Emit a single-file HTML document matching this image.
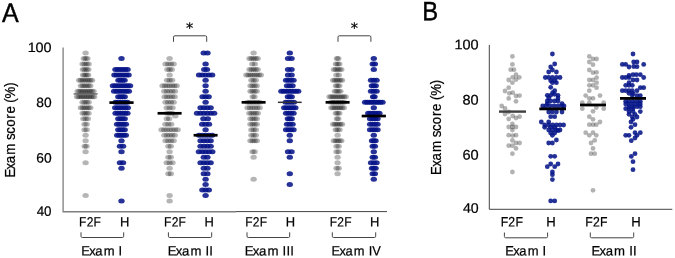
<!DOCTYPE html>
<html lang="en">
<head>
<meta charset="utf-8">
<style>
html,body{margin:0;padding:0;background:#fff;}
body{width:675px;height:258px;overflow:hidden;}
svg{display:block;}
svg text{font-family:"Liberation Sans",sans-serif;fill:#000;stroke:#000;stroke-width:0.22px;}
svg .ast text{font-family:"DejaVu Sans","Liberation Sans",sans-serif;}
</style>
</head>
<body>
<svg width="675" height="258" viewBox="0 0 675 258">
<rect width="100%" height="100%" fill="#fff"/>
<g fill="none" stroke="#7f7f7f" stroke-width="1.3">
<path d="M63.1 47.6V211.75H236"/>
</g>
<g fill="none" stroke="#444" stroke-width="1">
<path d="M236 211.6H387"/>
<path d="M489.3 44.9V209.3H672.3"/>
</g>
<g fill="none" stroke="#444" stroke-width="1">
<path d="M173.5 41.8V37.1Q173.5 35.8 174.8 35.8H205.4Q206.7 35.8 206.7 37.1V41.8"/>
<path d="M338 41.8V37.1Q338 35.8 339.3 35.8H369.6Q370.9 35.8 370.9 37.1V41.8"/>
<path d="M81 232.3V236.2Q81 237.5 82.3 237.5H122.4Q123.7 237.5 123.7 236.2V232.3"/>
<path d="M168.4 232.3V236.2Q168.4 237.5 169.7 237.5H210.4Q211.7 237.5 211.7 236.2V232.3"/>
<path d="M247 232.3V236.2Q247 237.5 248.3 237.5H288.4Q289.7 237.5 289.7 236.2V232.3"/>
<path d="M332.3 232.3V236.2Q332.3 237.5 333.6 237.5H374.4Q375.7 237.5 375.7 236.2V232.3"/>
<path d="M504.4 232.5V236.5Q504.4 237.8 505.7 237.8H546.3Q547.6 237.8 547.6 236.5V232.5"/>
<path d="M590.3 232.5V236.5Q590.3 237.8 591.6 237.8H632.4Q633.7 237.8 633.7 236.5V232.5"/>
</g>
<g font-size="14.5" text-anchor="middle" class="ast">
<text transform="translate(189.7 33.1) rotate(0.03)">*</text>
<text transform="translate(354.4 33.1) rotate(0.03)">*</text>
</g>

<text transform="translate(2.10 22.00) rotate(0.03) scale(0.9349 1)" x="-0.11" y="0" font-size="26.80" style="stroke-width:0.4px">A</text>
<text transform="translate(424.30 20.20) rotate(0.03) scale(0.8970 1)" x="-2.24" y="0" font-size="26.60" style="stroke-width:0.4px">B</text>
<text transform="translate(28.90 52.00) rotate(0.03) scale(1.0690 1)" x="-1.16 6.23 13.74" y="0" font-size="13.50">100</text>
<text transform="translate(36.90 107.00) rotate(0.03) scale(1.0185 1)" x="-0.59 6.91" y="0" font-size="13.50">80</text>
<text transform="translate(36.90 162.40) rotate(0.03) scale(1.0238 1)" x="-0.64 6.84" y="0" font-size="13.50">60</text>
<text transform="translate(36.90 215.70) rotate(0.03) scale(0.9945 1)" x="-0.21 7.25" y="0" font-size="13.50">40</text>
<text transform="translate(455.80 49.20) rotate(0.03) scale(1.0505 1)" x="-1.18 6.37 14.04" y="0" font-size="13.80">100</text>
<text transform="translate(463.10 104.40) rotate(0.03) scale(1.0521 1)" x="-0.61 7.07" y="0" font-size="13.80">80</text>
<text transform="translate(463.10 159.40) rotate(0.03) scale(1.0576 1)" x="-0.65 6.99" y="0" font-size="13.80">60</text>
<text transform="translate(463.10 212.70) rotate(0.03) scale(1.0273 1)" x="-0.21 7.42" y="0" font-size="13.80">40</text>
<text transform="translate(14.80 175.80) rotate(-90) scale(0.9629 1)" x="-1.88 6.65 13.07 21.86 33.80 37.24 43.67 50.85 59.38 64.58 72.25 75.89 80.36 92.51" y="0" font-size="13.80">Exam score (%)</text>
<text transform="translate(440.90 173.10) rotate(-90) scale(0.9619 1)" x="-1.88 6.65 13.07 21.86 33.80 37.24 43.67 50.85 59.38 64.58 72.25 75.89 80.36 92.51" y="0" font-size="13.80">Exam score (%)</text>
<text transform="translate(80.30 226.50) rotate(0.03) scale(0.8891 1)" x="-1.35 7.13 14.92" y="0" font-size="13.50">F2F</text>
<text transform="translate(165.30 226.50) rotate(0.03) scale(0.8891 1)" x="-1.35 7.13 14.92" y="0" font-size="13.50">F2F</text>
<text transform="translate(246.50 226.50) rotate(0.03) scale(0.8891 1)" x="-1.35 7.13 14.92" y="0" font-size="13.50">F2F</text>
<text transform="translate(330.90 226.50) rotate(0.03) scale(0.8891 1)" x="-1.35 7.13 14.92" y="0" font-size="13.50">F2F</text>
<text transform="translate(120.90 226.50) rotate(0.03) scale(0.9593 1)" x="-1.07" y="0" font-size="13.50">H</text>
<text transform="translate(205.40 226.50) rotate(0.03) scale(0.9593 1)" x="-1.07" y="0" font-size="13.50">H</text>
<text transform="translate(286.80 226.50) rotate(0.03) scale(0.9593 1)" x="-1.07" y="0" font-size="13.50">H</text>
<text transform="translate(371.10 226.50) rotate(0.03) scale(0.9593 1)" x="-1.07" y="0" font-size="13.50">H</text>
<text transform="translate(82.90 255.40) rotate(0.03) scale(0.9642 1)" x="-1.82 6.57 12.90 21.57 33.30 37.05" y="0" font-size="13.50">Exam I</text>
<text transform="translate(169.50 255.40) rotate(0.03) scale(0.9751 1)" x="-1.83 6.53 12.83 21.45 33.14 36.87 40.81" y="0" font-size="13.50">Exam II</text>
<text transform="translate(246.50 255.40) rotate(0.03) scale(0.9822 1)" x="-1.84 6.49 12.77 21.34 33.01 36.73 40.65 44.57" y="0" font-size="13.50">Exam III</text>
<text transform="translate(333.20 255.40) rotate(0.03) scale(0.9548 1)" x="-1.81 6.59 12.94 21.62 33.37 37.12 40.94" y="0" font-size="13.50">Exam IV</text>
<text transform="translate(501.90 226.50) rotate(0.03) scale(0.8938 1)" x="-1.37 7.24 15.14" y="0" font-size="13.70">F2F</text>
<text transform="translate(586.50 226.50) rotate(0.03) scale(0.8938 1)" x="-1.37 7.24 15.14" y="0" font-size="13.70">F2F</text>
<text transform="translate(547.20 226.50) rotate(0.03) scale(0.9582 1)" x="-1.09" y="0" font-size="13.70">H</text>
<text transform="translate(632.20 226.50) rotate(0.03) scale(0.9582 1)" x="-1.09" y="0" font-size="13.70">H</text>
<text transform="translate(506.90 255.40) rotate(0.03) scale(0.9501 1)" x="-1.85 6.67 13.09 21.89 33.79 37.60" y="0" font-size="13.70">Exam I</text>
<text transform="translate(593.20 255.40) rotate(0.03) scale(0.9609 1)" x="-1.86 6.62 13.02 21.76 33.63 37.42 41.42" y="0" font-size="13.70">Exam II</text>
<g fill="#000" fill-opacity="0.29"><ellipse cx="85.60" cy="52.94" rx="3.20" ry="2.50"/><ellipse cx="83.85" cy="58.42" rx="3.20" ry="2.50"/><ellipse cx="85.60" cy="58.42" rx="3.20" ry="2.50"/><ellipse cx="87.35" cy="58.42" rx="3.20" ry="2.50"/><ellipse cx="82.60" cy="63.91" rx="3.20" ry="2.50"/><ellipse cx="84.60" cy="63.91" rx="3.20" ry="2.50"/><ellipse cx="86.60" cy="63.91" rx="3.20" ry="2.50"/><ellipse cx="88.60" cy="63.91" rx="3.20" ry="2.50"/><ellipse cx="82.90" cy="69.40" rx="3.20" ry="2.50"/><ellipse cx="84.70" cy="69.40" rx="3.20" ry="2.50"/><ellipse cx="86.50" cy="69.40" rx="3.20" ry="2.50"/><ellipse cx="88.30" cy="69.40" rx="3.20" ry="2.50"/><ellipse cx="83.05" cy="74.88" rx="3.20" ry="2.50"/><ellipse cx="84.75" cy="74.88" rx="3.20" ry="2.50"/><ellipse cx="86.45" cy="74.88" rx="3.20" ry="2.50"/><ellipse cx="88.15" cy="74.88" rx="3.20" ry="2.50"/><ellipse cx="79.20" cy="80.37" rx="3.20" ry="2.50"/><ellipse cx="81.03" cy="80.37" rx="3.20" ry="2.50"/><ellipse cx="82.86" cy="80.37" rx="3.20" ry="2.50"/><ellipse cx="84.69" cy="80.37" rx="3.20" ry="2.50"/><ellipse cx="86.51" cy="80.37" rx="3.20" ry="2.50"/><ellipse cx="88.34" cy="80.37" rx="3.20" ry="2.50"/><ellipse cx="90.17" cy="80.37" rx="3.20" ry="2.50"/><ellipse cx="92.00" cy="80.37" rx="3.20" ry="2.50"/><ellipse cx="80.90" cy="85.86" rx="3.20" ry="2.50"/><ellipse cx="82.78" cy="85.86" rx="3.20" ry="2.50"/><ellipse cx="84.66" cy="85.86" rx="3.20" ry="2.50"/><ellipse cx="86.54" cy="85.86" rx="3.20" ry="2.50"/><ellipse cx="88.42" cy="85.86" rx="3.20" ry="2.50"/><ellipse cx="90.30" cy="85.86" rx="3.20" ry="2.50"/><ellipse cx="77.70" cy="91.34" rx="3.20" ry="2.50"/><ellipse cx="79.46" cy="91.34" rx="3.20" ry="2.50"/><ellipse cx="81.21" cy="91.34" rx="3.20" ry="2.50"/><ellipse cx="82.97" cy="91.34" rx="3.20" ry="2.50"/><ellipse cx="84.72" cy="91.34" rx="3.20" ry="2.50"/><ellipse cx="86.48" cy="91.34" rx="3.20" ry="2.50"/><ellipse cx="88.23" cy="91.34" rx="3.20" ry="2.50"/><ellipse cx="89.99" cy="91.34" rx="3.20" ry="2.50"/><ellipse cx="91.74" cy="91.34" rx="3.20" ry="2.50"/><ellipse cx="93.50" cy="91.34" rx="3.20" ry="2.50"/><ellipse cx="77.05" cy="96.83" rx="3.20" ry="2.50"/><ellipse cx="78.76" cy="96.83" rx="3.20" ry="2.50"/><ellipse cx="80.47" cy="96.83" rx="3.20" ry="2.50"/><ellipse cx="82.18" cy="96.83" rx="3.20" ry="2.50"/><ellipse cx="83.89" cy="96.83" rx="3.20" ry="2.50"/><ellipse cx="85.60" cy="96.83" rx="3.20" ry="2.50"/><ellipse cx="87.31" cy="96.83" rx="3.20" ry="2.50"/><ellipse cx="89.02" cy="96.83" rx="3.20" ry="2.50"/><ellipse cx="90.73" cy="96.83" rx="3.20" ry="2.50"/><ellipse cx="92.44" cy="96.83" rx="3.20" ry="2.50"/><ellipse cx="94.15" cy="96.83" rx="3.20" ry="2.50"/><ellipse cx="82.55" cy="102.32" rx="3.20" ry="2.50"/><ellipse cx="84.58" cy="102.32" rx="3.20" ry="2.50"/><ellipse cx="86.62" cy="102.32" rx="3.20" ry="2.50"/><ellipse cx="88.65" cy="102.32" rx="3.20" ry="2.50"/><ellipse cx="80.90" cy="107.80" rx="3.20" ry="2.50"/><ellipse cx="82.78" cy="107.80" rx="3.20" ry="2.50"/><ellipse cx="84.66" cy="107.80" rx="3.20" ry="2.50"/><ellipse cx="86.54" cy="107.80" rx="3.20" ry="2.50"/><ellipse cx="88.42" cy="107.80" rx="3.20" ry="2.50"/><ellipse cx="90.30" cy="107.80" rx="3.20" ry="2.50"/><ellipse cx="82.70" cy="113.29" rx="3.20" ry="2.50"/><ellipse cx="84.63" cy="113.29" rx="3.20" ry="2.50"/><ellipse cx="86.57" cy="113.29" rx="3.20" ry="2.50"/><ellipse cx="88.50" cy="113.29" rx="3.20" ry="2.50"/><ellipse cx="83.40" cy="118.78" rx="3.20" ry="2.50"/><ellipse cx="85.60" cy="118.78" rx="3.20" ry="2.50"/><ellipse cx="87.80" cy="118.78" rx="3.20" ry="2.50"/><ellipse cx="84.55" cy="124.26" rx="3.20" ry="2.50"/><ellipse cx="86.65" cy="124.26" rx="3.20" ry="2.50"/><ellipse cx="84.55" cy="129.75" rx="3.20" ry="2.50"/><ellipse cx="86.65" cy="129.75" rx="3.20" ry="2.50"/><ellipse cx="85.60" cy="135.24" rx="3.20" ry="2.50"/><ellipse cx="85.60" cy="140.72" rx="3.20" ry="2.50"/><ellipse cx="84.70" cy="146.21" rx="3.20" ry="2.50"/><ellipse cx="86.50" cy="146.21" rx="3.20" ry="2.50"/><ellipse cx="85.60" cy="151.70" rx="3.20" ry="2.50"/><ellipse cx="85.60" cy="162.67" rx="3.20" ry="2.50"/><ellipse cx="85.60" cy="195.59" rx="3.20" ry="2.50"/></g>
<g fill="#061488" fill-opacity="0.87"><ellipse cx="121.50" cy="58.42" rx="3.20" ry="2.50"/><ellipse cx="115.45" cy="69.40" rx="3.20" ry="2.50"/><ellipse cx="117.87" cy="69.40" rx="3.20" ry="2.50"/><ellipse cx="120.29" cy="69.40" rx="3.20" ry="2.50"/><ellipse cx="122.71" cy="69.40" rx="3.20" ry="2.50"/><ellipse cx="125.13" cy="69.40" rx="3.20" ry="2.50"/><ellipse cx="127.55" cy="69.40" rx="3.20" ry="2.50"/><ellipse cx="114.45" cy="74.88" rx="3.20" ry="2.50"/><ellipse cx="116.80" cy="74.88" rx="3.20" ry="2.50"/><ellipse cx="119.15" cy="74.88" rx="3.20" ry="2.50"/><ellipse cx="121.50" cy="74.88" rx="3.20" ry="2.50"/><ellipse cx="123.85" cy="74.88" rx="3.20" ry="2.50"/><ellipse cx="126.20" cy="74.88" rx="3.20" ry="2.50"/><ellipse cx="128.55" cy="74.88" rx="3.20" ry="2.50"/><ellipse cx="118.45" cy="80.37" rx="3.20" ry="2.50"/><ellipse cx="120.48" cy="80.37" rx="3.20" ry="2.50"/><ellipse cx="122.52" cy="80.37" rx="3.20" ry="2.50"/><ellipse cx="124.55" cy="80.37" rx="3.20" ry="2.50"/><ellipse cx="112.95" cy="85.86" rx="3.20" ry="2.50"/><ellipse cx="115.39" cy="85.86" rx="3.20" ry="2.50"/><ellipse cx="117.84" cy="85.86" rx="3.20" ry="2.50"/><ellipse cx="120.28" cy="85.86" rx="3.20" ry="2.50"/><ellipse cx="122.72" cy="85.86" rx="3.20" ry="2.50"/><ellipse cx="125.16" cy="85.86" rx="3.20" ry="2.50"/><ellipse cx="127.61" cy="85.86" rx="3.20" ry="2.50"/><ellipse cx="130.05" cy="85.86" rx="3.20" ry="2.50"/><ellipse cx="114.15" cy="91.34" rx="3.20" ry="2.50"/><ellipse cx="116.60" cy="91.34" rx="3.20" ry="2.50"/><ellipse cx="119.05" cy="91.34" rx="3.20" ry="2.50"/><ellipse cx="121.50" cy="91.34" rx="3.20" ry="2.50"/><ellipse cx="123.95" cy="91.34" rx="3.20" ry="2.50"/><ellipse cx="126.40" cy="91.34" rx="3.20" ry="2.50"/><ellipse cx="128.85" cy="91.34" rx="3.20" ry="2.50"/><ellipse cx="118.30" cy="96.83" rx="3.20" ry="2.50"/><ellipse cx="120.43" cy="96.83" rx="3.20" ry="2.50"/><ellipse cx="122.57" cy="96.83" rx="3.20" ry="2.50"/><ellipse cx="124.70" cy="96.83" rx="3.20" ry="2.50"/><ellipse cx="115.60" cy="102.32" rx="3.20" ry="2.50"/><ellipse cx="117.96" cy="102.32" rx="3.20" ry="2.50"/><ellipse cx="120.32" cy="102.32" rx="3.20" ry="2.50"/><ellipse cx="122.68" cy="102.32" rx="3.20" ry="2.50"/><ellipse cx="125.04" cy="102.32" rx="3.20" ry="2.50"/><ellipse cx="127.40" cy="102.32" rx="3.20" ry="2.50"/><ellipse cx="115.20" cy="107.80" rx="3.20" ry="2.50"/><ellipse cx="117.72" cy="107.80" rx="3.20" ry="2.50"/><ellipse cx="120.24" cy="107.80" rx="3.20" ry="2.50"/><ellipse cx="122.76" cy="107.80" rx="3.20" ry="2.50"/><ellipse cx="125.28" cy="107.80" rx="3.20" ry="2.50"/><ellipse cx="127.80" cy="107.80" rx="3.20" ry="2.50"/><ellipse cx="115.60" cy="113.29" rx="3.20" ry="2.50"/><ellipse cx="117.96" cy="113.29" rx="3.20" ry="2.50"/><ellipse cx="120.32" cy="113.29" rx="3.20" ry="2.50"/><ellipse cx="122.68" cy="113.29" rx="3.20" ry="2.50"/><ellipse cx="125.04" cy="113.29" rx="3.20" ry="2.50"/><ellipse cx="127.40" cy="113.29" rx="3.20" ry="2.50"/><ellipse cx="118.30" cy="118.78" rx="3.20" ry="2.50"/><ellipse cx="120.43" cy="118.78" rx="3.20" ry="2.50"/><ellipse cx="122.57" cy="118.78" rx="3.20" ry="2.50"/><ellipse cx="124.70" cy="118.78" rx="3.20" ry="2.50"/><ellipse cx="117.10" cy="124.26" rx="3.20" ry="2.50"/><ellipse cx="119.30" cy="124.26" rx="3.20" ry="2.50"/><ellipse cx="121.50" cy="124.26" rx="3.20" ry="2.50"/><ellipse cx="123.70" cy="124.26" rx="3.20" ry="2.50"/><ellipse cx="125.90" cy="124.26" rx="3.20" ry="2.50"/><ellipse cx="118.30" cy="129.75" rx="3.20" ry="2.50"/><ellipse cx="120.43" cy="129.75" rx="3.20" ry="2.50"/><ellipse cx="122.57" cy="129.75" rx="3.20" ry="2.50"/><ellipse cx="124.70" cy="129.75" rx="3.20" ry="2.50"/><ellipse cx="117.20" cy="135.24" rx="3.20" ry="2.50"/><ellipse cx="119.35" cy="135.24" rx="3.20" ry="2.50"/><ellipse cx="121.50" cy="135.24" rx="3.20" ry="2.50"/><ellipse cx="123.65" cy="135.24" rx="3.20" ry="2.50"/><ellipse cx="125.80" cy="135.24" rx="3.20" ry="2.50"/><ellipse cx="121.50" cy="140.72" rx="3.20" ry="2.50"/><ellipse cx="119.95" cy="146.21" rx="3.20" ry="2.50"/><ellipse cx="123.05" cy="146.21" rx="3.20" ry="2.50"/><ellipse cx="121.50" cy="151.70" rx="3.20" ry="2.50"/><ellipse cx="119.95" cy="162.67" rx="3.20" ry="2.50"/><ellipse cx="123.05" cy="162.67" rx="3.20" ry="2.50"/><ellipse cx="121.50" cy="168.16" rx="3.20" ry="2.50"/><ellipse cx="121.50" cy="201.08" rx="3.20" ry="2.50"/></g>
<g fill="#000" fill-opacity="0.29"><ellipse cx="169.60" cy="58.42" rx="3.20" ry="2.50"/><ellipse cx="165.55" cy="63.91" rx="3.20" ry="2.50"/><ellipse cx="168.25" cy="63.91" rx="3.20" ry="2.50"/><ellipse cx="170.95" cy="63.91" rx="3.20" ry="2.50"/><ellipse cx="173.65" cy="63.91" rx="3.20" ry="2.50"/><ellipse cx="167.40" cy="69.40" rx="3.20" ry="2.50"/><ellipse cx="169.60" cy="69.40" rx="3.20" ry="2.50"/><ellipse cx="171.80" cy="69.40" rx="3.20" ry="2.50"/><ellipse cx="169.60" cy="74.88" rx="3.20" ry="2.50"/><ellipse cx="167.05" cy="80.37" rx="3.20" ry="2.50"/><ellipse cx="169.60" cy="80.37" rx="3.20" ry="2.50"/><ellipse cx="172.15" cy="80.37" rx="3.20" ry="2.50"/><ellipse cx="162.55" cy="85.86" rx="3.20" ry="2.50"/><ellipse cx="164.90" cy="85.86" rx="3.20" ry="2.50"/><ellipse cx="167.25" cy="85.86" rx="3.20" ry="2.50"/><ellipse cx="169.60" cy="85.86" rx="3.20" ry="2.50"/><ellipse cx="171.95" cy="85.86" rx="3.20" ry="2.50"/><ellipse cx="174.30" cy="85.86" rx="3.20" ry="2.50"/><ellipse cx="176.65" cy="85.86" rx="3.20" ry="2.50"/><ellipse cx="164.25" cy="91.34" rx="3.20" ry="2.50"/><ellipse cx="166.92" cy="91.34" rx="3.20" ry="2.50"/><ellipse cx="169.60" cy="91.34" rx="3.20" ry="2.50"/><ellipse cx="172.28" cy="91.34" rx="3.20" ry="2.50"/><ellipse cx="174.95" cy="91.34" rx="3.20" ry="2.50"/><ellipse cx="164.55" cy="96.83" rx="3.20" ry="2.50"/><ellipse cx="167.07" cy="96.83" rx="3.20" ry="2.50"/><ellipse cx="169.60" cy="96.83" rx="3.20" ry="2.50"/><ellipse cx="172.12" cy="96.83" rx="3.20" ry="2.50"/><ellipse cx="174.65" cy="96.83" rx="3.20" ry="2.50"/><ellipse cx="165.55" cy="102.32" rx="3.20" ry="2.50"/><ellipse cx="168.25" cy="102.32" rx="3.20" ry="2.50"/><ellipse cx="170.95" cy="102.32" rx="3.20" ry="2.50"/><ellipse cx="173.65" cy="102.32" rx="3.20" ry="2.50"/><ellipse cx="166.70" cy="107.80" rx="3.20" ry="2.50"/><ellipse cx="169.60" cy="107.80" rx="3.20" ry="2.50"/><ellipse cx="172.50" cy="107.80" rx="3.20" ry="2.50"/><ellipse cx="167.05" cy="113.29" rx="3.20" ry="2.50"/><ellipse cx="169.60" cy="113.29" rx="3.20" ry="2.50"/><ellipse cx="172.15" cy="113.29" rx="3.20" ry="2.50"/><ellipse cx="175.30" cy="116.03" rx="3.20" ry="2.50"/><ellipse cx="166.80" cy="118.78" rx="3.20" ry="2.50"/><ellipse cx="169.20" cy="118.78" rx="3.20" ry="2.50"/><ellipse cx="165.40" cy="124.26" rx="3.20" ry="2.50"/><ellipse cx="168.30" cy="124.26" rx="3.20" ry="2.50"/><ellipse cx="171.20" cy="124.26" rx="3.20" ry="2.50"/><ellipse cx="161.55" cy="129.75" rx="3.20" ry="2.50"/><ellipse cx="164.23" cy="129.75" rx="3.20" ry="2.50"/><ellipse cx="166.92" cy="129.75" rx="3.20" ry="2.50"/><ellipse cx="169.60" cy="129.75" rx="3.20" ry="2.50"/><ellipse cx="172.28" cy="129.75" rx="3.20" ry="2.50"/><ellipse cx="174.97" cy="129.75" rx="3.20" ry="2.50"/><ellipse cx="177.65" cy="129.75" rx="3.20" ry="2.50"/><ellipse cx="164.40" cy="135.24" rx="3.20" ry="2.50"/><ellipse cx="167.00" cy="135.24" rx="3.20" ry="2.50"/><ellipse cx="169.60" cy="135.24" rx="3.20" ry="2.50"/><ellipse cx="172.20" cy="135.24" rx="3.20" ry="2.50"/><ellipse cx="174.80" cy="135.24" rx="3.20" ry="2.50"/><ellipse cx="165.55" cy="140.72" rx="3.20" ry="2.50"/><ellipse cx="168.25" cy="140.72" rx="3.20" ry="2.50"/><ellipse cx="170.95" cy="140.72" rx="3.20" ry="2.50"/><ellipse cx="173.65" cy="140.72" rx="3.20" ry="2.50"/><ellipse cx="168.40" cy="146.21" rx="3.20" ry="2.50"/><ellipse cx="170.80" cy="146.21" rx="3.20" ry="2.50"/><ellipse cx="169.60" cy="151.70" rx="3.20" ry="2.50"/><ellipse cx="168.40" cy="157.18" rx="3.20" ry="2.50"/><ellipse cx="170.80" cy="157.18" rx="3.20" ry="2.50"/><ellipse cx="166.70" cy="162.67" rx="3.20" ry="2.50"/><ellipse cx="169.60" cy="162.67" rx="3.20" ry="2.50"/><ellipse cx="172.50" cy="162.67" rx="3.20" ry="2.50"/><ellipse cx="169.60" cy="168.16" rx="3.20" ry="2.50"/><ellipse cx="168.40" cy="173.64" rx="3.20" ry="2.50"/><ellipse cx="170.80" cy="173.64" rx="3.20" ry="2.50"/><ellipse cx="169.60" cy="195.59" rx="3.20" ry="2.50"/><ellipse cx="169.60" cy="201.08" rx="3.20" ry="2.50"/></g>
<g fill="#061488" fill-opacity="0.87"><ellipse cx="203.70" cy="52.94" rx="3.20" ry="2.50"/><ellipse cx="207.50" cy="52.94" rx="3.20" ry="2.50"/><ellipse cx="205.60" cy="63.91" rx="3.20" ry="2.50"/><ellipse cx="204.25" cy="69.40" rx="3.20" ry="2.50"/><ellipse cx="206.95" cy="69.40" rx="3.20" ry="2.50"/><ellipse cx="199.05" cy="74.88" rx="3.20" ry="2.50"/><ellipse cx="202.32" cy="74.88" rx="3.20" ry="2.50"/><ellipse cx="205.60" cy="74.88" rx="3.20" ry="2.50"/><ellipse cx="208.88" cy="74.88" rx="3.20" ry="2.50"/><ellipse cx="212.15" cy="74.88" rx="3.20" ry="2.50"/><ellipse cx="205.60" cy="80.37" rx="3.20" ry="2.50"/><ellipse cx="205.60" cy="85.86" rx="3.20" ry="2.50"/><ellipse cx="205.60" cy="91.34" rx="3.20" ry="2.50"/><ellipse cx="202.55" cy="96.83" rx="3.20" ry="2.50"/><ellipse cx="205.60" cy="96.83" rx="3.20" ry="2.50"/><ellipse cx="208.65" cy="96.83" rx="3.20" ry="2.50"/><ellipse cx="205.60" cy="102.32" rx="3.20" ry="2.50"/><ellipse cx="200.55" cy="107.80" rx="3.20" ry="2.50"/><ellipse cx="203.92" cy="107.80" rx="3.20" ry="2.50"/><ellipse cx="207.28" cy="107.80" rx="3.20" ry="2.50"/><ellipse cx="210.65" cy="107.80" rx="3.20" ry="2.50"/><ellipse cx="197.05" cy="113.29" rx="3.20" ry="2.50"/><ellipse cx="200.47" cy="113.29" rx="3.20" ry="2.50"/><ellipse cx="203.89" cy="113.29" rx="3.20" ry="2.50"/><ellipse cx="207.31" cy="113.29" rx="3.20" ry="2.50"/><ellipse cx="210.73" cy="113.29" rx="3.20" ry="2.50"/><ellipse cx="214.15" cy="113.29" rx="3.20" ry="2.50"/><ellipse cx="203.40" cy="118.78" rx="3.20" ry="2.50"/><ellipse cx="207.80" cy="118.78" rx="3.20" ry="2.50"/><ellipse cx="202.20" cy="124.26" rx="3.20" ry="2.50"/><ellipse cx="205.60" cy="124.26" rx="3.20" ry="2.50"/><ellipse cx="209.00" cy="124.26" rx="3.20" ry="2.50"/><ellipse cx="205.60" cy="129.75" rx="3.20" ry="2.50"/><ellipse cx="199.05" cy="135.24" rx="3.20" ry="2.50"/><ellipse cx="202.32" cy="135.24" rx="3.20" ry="2.50"/><ellipse cx="205.60" cy="135.24" rx="3.20" ry="2.50"/><ellipse cx="208.88" cy="135.24" rx="3.20" ry="2.50"/><ellipse cx="212.15" cy="135.24" rx="3.20" ry="2.50"/><ellipse cx="200.55" cy="140.72" rx="3.20" ry="2.50"/><ellipse cx="203.92" cy="140.72" rx="3.20" ry="2.50"/><ellipse cx="207.28" cy="140.72" rx="3.20" ry="2.50"/><ellipse cx="210.65" cy="140.72" rx="3.20" ry="2.50"/><ellipse cx="200.55" cy="146.21" rx="3.20" ry="2.50"/><ellipse cx="203.92" cy="146.21" rx="3.20" ry="2.50"/><ellipse cx="207.28" cy="146.21" rx="3.20" ry="2.50"/><ellipse cx="210.65" cy="146.21" rx="3.20" ry="2.50"/><ellipse cx="198.90" cy="151.70" rx="3.20" ry="2.50"/><ellipse cx="202.25" cy="151.70" rx="3.20" ry="2.50"/><ellipse cx="205.60" cy="151.70" rx="3.20" ry="2.50"/><ellipse cx="208.95" cy="151.70" rx="3.20" ry="2.50"/><ellipse cx="212.30" cy="151.70" rx="3.20" ry="2.50"/><ellipse cx="203.80" cy="157.18" rx="3.20" ry="2.50"/><ellipse cx="207.40" cy="157.18" rx="3.20" ry="2.50"/><ellipse cx="200.55" cy="162.67" rx="3.20" ry="2.50"/><ellipse cx="203.92" cy="162.67" rx="3.20" ry="2.50"/><ellipse cx="207.28" cy="162.67" rx="3.20" ry="2.50"/><ellipse cx="210.65" cy="162.67" rx="3.20" ry="2.50"/><ellipse cx="203.80" cy="168.16" rx="3.20" ry="2.50"/><ellipse cx="207.40" cy="168.16" rx="3.20" ry="2.50"/><ellipse cx="203.80" cy="173.64" rx="3.20" ry="2.50"/><ellipse cx="207.40" cy="173.64" rx="3.20" ry="2.50"/><ellipse cx="205.60" cy="179.13" rx="3.20" ry="2.50"/><ellipse cx="205.60" cy="184.62" rx="3.20" ry="2.50"/><ellipse cx="202.40" cy="190.10" rx="3.20" ry="2.50"/><ellipse cx="205.60" cy="190.10" rx="3.20" ry="2.50"/><ellipse cx="208.80" cy="190.10" rx="3.20" ry="2.50"/><ellipse cx="205.60" cy="195.59" rx="3.20" ry="2.50"/></g>
<g fill="#000" fill-opacity="0.29"><ellipse cx="253.60" cy="52.94" rx="3.20" ry="2.50"/><ellipse cx="249.55" cy="58.42" rx="3.20" ry="2.50"/><ellipse cx="251.57" cy="58.42" rx="3.20" ry="2.50"/><ellipse cx="253.60" cy="58.42" rx="3.20" ry="2.50"/><ellipse cx="255.62" cy="58.42" rx="3.20" ry="2.50"/><ellipse cx="257.65" cy="58.42" rx="3.20" ry="2.50"/><ellipse cx="252.30" cy="63.91" rx="3.20" ry="2.50"/><ellipse cx="254.90" cy="63.91" rx="3.20" ry="2.50"/><ellipse cx="249.55" cy="69.40" rx="3.20" ry="2.50"/><ellipse cx="251.57" cy="69.40" rx="3.20" ry="2.50"/><ellipse cx="253.60" cy="69.40" rx="3.20" ry="2.50"/><ellipse cx="255.62" cy="69.40" rx="3.20" ry="2.50"/><ellipse cx="257.65" cy="69.40" rx="3.20" ry="2.50"/><ellipse cx="246.40" cy="74.88" rx="3.20" ry="2.50"/><ellipse cx="248.46" cy="74.88" rx="3.20" ry="2.50"/><ellipse cx="250.51" cy="74.88" rx="3.20" ry="2.50"/><ellipse cx="252.57" cy="74.88" rx="3.20" ry="2.50"/><ellipse cx="254.63" cy="74.88" rx="3.20" ry="2.50"/><ellipse cx="256.69" cy="74.88" rx="3.20" ry="2.50"/><ellipse cx="258.74" cy="74.88" rx="3.20" ry="2.50"/><ellipse cx="260.80" cy="74.88" rx="3.20" ry="2.50"/><ellipse cx="251.40" cy="80.37" rx="3.20" ry="2.50"/><ellipse cx="253.60" cy="80.37" rx="3.20" ry="2.50"/><ellipse cx="255.80" cy="80.37" rx="3.20" ry="2.50"/><ellipse cx="250.55" cy="85.86" rx="3.20" ry="2.50"/><ellipse cx="252.58" cy="85.86" rx="3.20" ry="2.50"/><ellipse cx="254.62" cy="85.86" rx="3.20" ry="2.50"/><ellipse cx="256.65" cy="85.86" rx="3.20" ry="2.50"/><ellipse cx="250.55" cy="91.34" rx="3.20" ry="2.50"/><ellipse cx="252.58" cy="91.34" rx="3.20" ry="2.50"/><ellipse cx="254.62" cy="91.34" rx="3.20" ry="2.50"/><ellipse cx="256.65" cy="91.34" rx="3.20" ry="2.50"/><ellipse cx="252.70" cy="96.83" rx="3.20" ry="2.50"/><ellipse cx="254.50" cy="96.83" rx="3.20" ry="2.50"/><ellipse cx="247.55" cy="102.32" rx="3.20" ry="2.50"/><ellipse cx="249.97" cy="102.32" rx="3.20" ry="2.50"/><ellipse cx="252.39" cy="102.32" rx="3.20" ry="2.50"/><ellipse cx="254.81" cy="102.32" rx="3.20" ry="2.50"/><ellipse cx="257.23" cy="102.32" rx="3.20" ry="2.50"/><ellipse cx="259.65" cy="102.32" rx="3.20" ry="2.50"/><ellipse cx="247.55" cy="107.80" rx="3.20" ry="2.50"/><ellipse cx="249.97" cy="107.80" rx="3.20" ry="2.50"/><ellipse cx="252.39" cy="107.80" rx="3.20" ry="2.50"/><ellipse cx="254.81" cy="107.80" rx="3.20" ry="2.50"/><ellipse cx="257.23" cy="107.80" rx="3.20" ry="2.50"/><ellipse cx="259.65" cy="107.80" rx="3.20" ry="2.50"/><ellipse cx="249.40" cy="113.29" rx="3.20" ry="2.50"/><ellipse cx="251.50" cy="113.29" rx="3.20" ry="2.50"/><ellipse cx="253.60" cy="113.29" rx="3.20" ry="2.50"/><ellipse cx="255.70" cy="113.29" rx="3.20" ry="2.50"/><ellipse cx="257.80" cy="113.29" rx="3.20" ry="2.50"/><ellipse cx="250.45" cy="118.78" rx="3.20" ry="2.50"/><ellipse cx="252.55" cy="118.78" rx="3.20" ry="2.50"/><ellipse cx="254.65" cy="118.78" rx="3.20" ry="2.50"/><ellipse cx="256.75" cy="118.78" rx="3.20" ry="2.50"/><ellipse cx="250.45" cy="124.26" rx="3.20" ry="2.50"/><ellipse cx="252.55" cy="124.26" rx="3.20" ry="2.50"/><ellipse cx="254.65" cy="124.26" rx="3.20" ry="2.50"/><ellipse cx="256.75" cy="124.26" rx="3.20" ry="2.50"/><ellipse cx="251.40" cy="129.75" rx="3.20" ry="2.50"/><ellipse cx="253.60" cy="129.75" rx="3.20" ry="2.50"/><ellipse cx="255.80" cy="129.75" rx="3.20" ry="2.50"/><ellipse cx="251.40" cy="135.24" rx="3.20" ry="2.50"/><ellipse cx="253.60" cy="135.24" rx="3.20" ry="2.50"/><ellipse cx="255.80" cy="135.24" rx="3.20" ry="2.50"/><ellipse cx="250.45" cy="140.72" rx="3.20" ry="2.50"/><ellipse cx="252.55" cy="140.72" rx="3.20" ry="2.50"/><ellipse cx="254.65" cy="140.72" rx="3.20" ry="2.50"/><ellipse cx="256.75" cy="140.72" rx="3.20" ry="2.50"/><ellipse cx="252.55" cy="151.70" rx="3.20" ry="2.50"/><ellipse cx="254.65" cy="151.70" rx="3.20" ry="2.50"/><ellipse cx="253.60" cy="157.18" rx="3.20" ry="2.50"/><ellipse cx="253.60" cy="179.13" rx="3.20" ry="2.50"/></g>
<g fill="#061488" fill-opacity="0.87"><ellipse cx="289.80" cy="52.94" rx="3.20" ry="2.50"/><ellipse cx="288.05" cy="58.42" rx="3.20" ry="2.50"/><ellipse cx="291.55" cy="58.42" rx="3.20" ry="2.50"/><ellipse cx="288.05" cy="69.40" rx="3.20" ry="2.50"/><ellipse cx="291.55" cy="69.40" rx="3.20" ry="2.50"/><ellipse cx="288.05" cy="74.88" rx="3.20" ry="2.50"/><ellipse cx="291.55" cy="74.88" rx="3.20" ry="2.50"/><ellipse cx="286.10" cy="80.37" rx="3.20" ry="2.50"/><ellipse cx="288.57" cy="80.37" rx="3.20" ry="2.50"/><ellipse cx="291.03" cy="80.37" rx="3.20" ry="2.50"/><ellipse cx="293.50" cy="80.37" rx="3.20" ry="2.50"/><ellipse cx="287.05" cy="85.86" rx="3.20" ry="2.50"/><ellipse cx="289.80" cy="85.86" rx="3.20" ry="2.50"/><ellipse cx="292.55" cy="85.86" rx="3.20" ry="2.50"/><ellipse cx="281.40" cy="91.34" rx="3.20" ry="2.50"/><ellipse cx="283.80" cy="91.34" rx="3.20" ry="2.50"/><ellipse cx="286.20" cy="91.34" rx="3.20" ry="2.50"/><ellipse cx="288.60" cy="91.34" rx="3.20" ry="2.50"/><ellipse cx="291.00" cy="91.34" rx="3.20" ry="2.50"/><ellipse cx="293.40" cy="91.34" rx="3.20" ry="2.50"/><ellipse cx="295.80" cy="91.34" rx="3.20" ry="2.50"/><ellipse cx="298.20" cy="91.34" rx="3.20" ry="2.50"/><ellipse cx="287.90" cy="96.83" rx="3.20" ry="2.50"/><ellipse cx="289.80" cy="96.83" rx="3.20" ry="2.50"/><ellipse cx="291.70" cy="96.83" rx="3.20" ry="2.50"/><ellipse cx="285.75" cy="102.32" rx="3.20" ry="2.50"/><ellipse cx="288.45" cy="102.32" rx="3.20" ry="2.50"/><ellipse cx="291.15" cy="102.32" rx="3.20" ry="2.50"/><ellipse cx="293.85" cy="102.32" rx="3.20" ry="2.50"/><ellipse cx="284.25" cy="107.80" rx="3.20" ry="2.50"/><ellipse cx="286.47" cy="107.80" rx="3.20" ry="2.50"/><ellipse cx="288.69" cy="107.80" rx="3.20" ry="2.50"/><ellipse cx="290.91" cy="107.80" rx="3.20" ry="2.50"/><ellipse cx="293.13" cy="107.80" rx="3.20" ry="2.50"/><ellipse cx="295.35" cy="107.80" rx="3.20" ry="2.50"/><ellipse cx="286.10" cy="113.29" rx="3.20" ry="2.50"/><ellipse cx="288.57" cy="113.29" rx="3.20" ry="2.50"/><ellipse cx="291.03" cy="113.29" rx="3.20" ry="2.50"/><ellipse cx="293.50" cy="113.29" rx="3.20" ry="2.50"/><ellipse cx="287.90" cy="118.78" rx="3.20" ry="2.50"/><ellipse cx="289.80" cy="118.78" rx="3.20" ry="2.50"/><ellipse cx="291.70" cy="118.78" rx="3.20" ry="2.50"/><ellipse cx="287.05" cy="124.26" rx="3.20" ry="2.50"/><ellipse cx="289.80" cy="124.26" rx="3.20" ry="2.50"/><ellipse cx="292.55" cy="124.26" rx="3.20" ry="2.50"/><ellipse cx="286.10" cy="129.75" rx="3.20" ry="2.50"/><ellipse cx="288.57" cy="129.75" rx="3.20" ry="2.50"/><ellipse cx="291.03" cy="129.75" rx="3.20" ry="2.50"/><ellipse cx="293.50" cy="129.75" rx="3.20" ry="2.50"/><ellipse cx="289.80" cy="135.24" rx="3.20" ry="2.50"/><ellipse cx="289.80" cy="140.72" rx="3.20" ry="2.50"/><ellipse cx="288.05" cy="151.70" rx="3.20" ry="2.50"/><ellipse cx="291.55" cy="151.70" rx="3.20" ry="2.50"/><ellipse cx="289.80" cy="157.18" rx="3.20" ry="2.50"/><ellipse cx="289.80" cy="173.64" rx="3.20" ry="2.50"/><ellipse cx="289.80" cy="184.62" rx="3.20" ry="2.50"/></g>
<g fill="#000" fill-opacity="0.29"><ellipse cx="336.90" cy="58.42" rx="3.20" ry="2.50"/><ellipse cx="338.30" cy="58.42" rx="3.20" ry="2.50"/><ellipse cx="335.90" cy="63.91" rx="3.20" ry="2.50"/><ellipse cx="337.60" cy="63.91" rx="3.20" ry="2.50"/><ellipse cx="339.30" cy="63.91" rx="3.20" ry="2.50"/><ellipse cx="333.90" cy="69.40" rx="3.20" ry="2.50"/><ellipse cx="335.75" cy="69.40" rx="3.20" ry="2.50"/><ellipse cx="337.60" cy="69.40" rx="3.20" ry="2.50"/><ellipse cx="339.45" cy="69.40" rx="3.20" ry="2.50"/><ellipse cx="341.30" cy="69.40" rx="3.20" ry="2.50"/><ellipse cx="336.40" cy="74.88" rx="3.20" ry="2.50"/><ellipse cx="338.80" cy="74.88" rx="3.20" ry="2.50"/><ellipse cx="333.20" cy="80.37" rx="3.20" ry="2.50"/><ellipse cx="334.96" cy="80.37" rx="3.20" ry="2.50"/><ellipse cx="336.72" cy="80.37" rx="3.20" ry="2.50"/><ellipse cx="338.48" cy="80.37" rx="3.20" ry="2.50"/><ellipse cx="340.24" cy="80.37" rx="3.20" ry="2.50"/><ellipse cx="342.00" cy="80.37" rx="3.20" ry="2.50"/><ellipse cx="335.90" cy="85.86" rx="3.20" ry="2.50"/><ellipse cx="337.60" cy="85.86" rx="3.20" ry="2.50"/><ellipse cx="339.30" cy="85.86" rx="3.20" ry="2.50"/><ellipse cx="334.85" cy="91.34" rx="3.20" ry="2.50"/><ellipse cx="336.68" cy="91.34" rx="3.20" ry="2.50"/><ellipse cx="338.52" cy="91.34" rx="3.20" ry="2.50"/><ellipse cx="340.35" cy="91.34" rx="3.20" ry="2.50"/><ellipse cx="329.55" cy="96.83" rx="3.20" ry="2.50"/><ellipse cx="331.34" cy="96.83" rx="3.20" ry="2.50"/><ellipse cx="333.13" cy="96.83" rx="3.20" ry="2.50"/><ellipse cx="334.92" cy="96.83" rx="3.20" ry="2.50"/><ellipse cx="336.71" cy="96.83" rx="3.20" ry="2.50"/><ellipse cx="338.49" cy="96.83" rx="3.20" ry="2.50"/><ellipse cx="340.28" cy="96.83" rx="3.20" ry="2.50"/><ellipse cx="342.07" cy="96.83" rx="3.20" ry="2.50"/><ellipse cx="343.86" cy="96.83" rx="3.20" ry="2.50"/><ellipse cx="345.65" cy="96.83" rx="3.20" ry="2.50"/><ellipse cx="331.05" cy="102.32" rx="3.20" ry="2.50"/><ellipse cx="332.92" cy="102.32" rx="3.20" ry="2.50"/><ellipse cx="334.79" cy="102.32" rx="3.20" ry="2.50"/><ellipse cx="336.66" cy="102.32" rx="3.20" ry="2.50"/><ellipse cx="338.54" cy="102.32" rx="3.20" ry="2.50"/><ellipse cx="340.41" cy="102.32" rx="3.20" ry="2.50"/><ellipse cx="342.28" cy="102.32" rx="3.20" ry="2.50"/><ellipse cx="344.15" cy="102.32" rx="3.20" ry="2.50"/><ellipse cx="331.40" cy="107.80" rx="3.20" ry="2.50"/><ellipse cx="333.17" cy="107.80" rx="3.20" ry="2.50"/><ellipse cx="334.94" cy="107.80" rx="3.20" ry="2.50"/><ellipse cx="336.71" cy="107.80" rx="3.20" ry="2.50"/><ellipse cx="338.49" cy="107.80" rx="3.20" ry="2.50"/><ellipse cx="340.26" cy="107.80" rx="3.20" ry="2.50"/><ellipse cx="342.03" cy="107.80" rx="3.20" ry="2.50"/><ellipse cx="343.80" cy="107.80" rx="3.20" ry="2.50"/><ellipse cx="335.90" cy="113.29" rx="3.20" ry="2.50"/><ellipse cx="337.60" cy="113.29" rx="3.20" ry="2.50"/><ellipse cx="339.30" cy="113.29" rx="3.20" ry="2.50"/><ellipse cx="336.90" cy="118.78" rx="3.20" ry="2.50"/><ellipse cx="338.30" cy="118.78" rx="3.20" ry="2.50"/><ellipse cx="333.20" cy="124.26" rx="3.20" ry="2.50"/><ellipse cx="334.96" cy="124.26" rx="3.20" ry="2.50"/><ellipse cx="336.72" cy="124.26" rx="3.20" ry="2.50"/><ellipse cx="338.48" cy="124.26" rx="3.20" ry="2.50"/><ellipse cx="340.24" cy="124.26" rx="3.20" ry="2.50"/><ellipse cx="342.00" cy="124.26" rx="3.20" ry="2.50"/><ellipse cx="335.70" cy="129.75" rx="3.20" ry="2.50"/><ellipse cx="337.60" cy="129.75" rx="3.20" ry="2.50"/><ellipse cx="339.50" cy="129.75" rx="3.20" ry="2.50"/><ellipse cx="337.60" cy="135.24" rx="3.20" ry="2.50"/><ellipse cx="333.90" cy="140.72" rx="3.20" ry="2.50"/><ellipse cx="335.75" cy="140.72" rx="3.20" ry="2.50"/><ellipse cx="337.60" cy="140.72" rx="3.20" ry="2.50"/><ellipse cx="339.45" cy="140.72" rx="3.20" ry="2.50"/><ellipse cx="341.30" cy="140.72" rx="3.20" ry="2.50"/><ellipse cx="336.55" cy="146.21" rx="3.20" ry="2.50"/><ellipse cx="338.65" cy="146.21" rx="3.20" ry="2.50"/><ellipse cx="336.55" cy="151.70" rx="3.20" ry="2.50"/><ellipse cx="338.65" cy="151.70" rx="3.20" ry="2.50"/><ellipse cx="337.60" cy="157.18" rx="3.20" ry="2.50"/><ellipse cx="337.60" cy="162.67" rx="3.20" ry="2.50"/><ellipse cx="336.55" cy="168.16" rx="3.20" ry="2.50"/><ellipse cx="338.65" cy="168.16" rx="3.20" ry="2.50"/><ellipse cx="337.60" cy="173.64" rx="3.20" ry="2.50"/></g>
<g fill="#061488" fill-opacity="0.87"><ellipse cx="373.80" cy="58.42" rx="3.20" ry="2.50"/><ellipse cx="372.75" cy="63.91" rx="3.20" ry="2.50"/><ellipse cx="374.85" cy="63.91" rx="3.20" ry="2.50"/><ellipse cx="373.80" cy="69.40" rx="3.20" ry="2.50"/><ellipse cx="371.05" cy="80.37" rx="3.20" ry="2.50"/><ellipse cx="373.80" cy="80.37" rx="3.20" ry="2.50"/><ellipse cx="376.55" cy="80.37" rx="3.20" ry="2.50"/><ellipse cx="371.90" cy="85.86" rx="3.20" ry="2.50"/><ellipse cx="373.80" cy="85.86" rx="3.20" ry="2.50"/><ellipse cx="375.70" cy="85.86" rx="3.20" ry="2.50"/><ellipse cx="371.05" cy="91.34" rx="3.20" ry="2.50"/><ellipse cx="373.80" cy="91.34" rx="3.20" ry="2.50"/><ellipse cx="376.55" cy="91.34" rx="3.20" ry="2.50"/><ellipse cx="373.10" cy="96.83" rx="3.20" ry="2.50"/><ellipse cx="374.50" cy="96.83" rx="3.20" ry="2.50"/><ellipse cx="365.10" cy="102.32" rx="3.20" ry="2.50"/><ellipse cx="367.28" cy="102.32" rx="3.20" ry="2.50"/><ellipse cx="369.45" cy="102.32" rx="3.20" ry="2.50"/><ellipse cx="371.62" cy="102.32" rx="3.20" ry="2.50"/><ellipse cx="373.80" cy="102.32" rx="3.20" ry="2.50"/><ellipse cx="375.98" cy="102.32" rx="3.20" ry="2.50"/><ellipse cx="378.15" cy="102.32" rx="3.20" ry="2.50"/><ellipse cx="380.32" cy="102.32" rx="3.20" ry="2.50"/><ellipse cx="382.50" cy="102.32" rx="3.20" ry="2.50"/><ellipse cx="373.80" cy="107.80" rx="3.20" ry="2.50"/><ellipse cx="368.25" cy="113.29" rx="3.20" ry="2.50"/><ellipse cx="370.47" cy="113.29" rx="3.20" ry="2.50"/><ellipse cx="372.69" cy="113.29" rx="3.20" ry="2.50"/><ellipse cx="374.91" cy="113.29" rx="3.20" ry="2.50"/><ellipse cx="377.13" cy="113.29" rx="3.20" ry="2.50"/><ellipse cx="379.35" cy="113.29" rx="3.20" ry="2.50"/><ellipse cx="370.10" cy="118.78" rx="3.20" ry="2.50"/><ellipse cx="372.57" cy="118.78" rx="3.20" ry="2.50"/><ellipse cx="375.03" cy="118.78" rx="3.20" ry="2.50"/><ellipse cx="377.50" cy="118.78" rx="3.20" ry="2.50"/><ellipse cx="370.10" cy="124.26" rx="3.20" ry="2.50"/><ellipse cx="372.57" cy="124.26" rx="3.20" ry="2.50"/><ellipse cx="375.03" cy="124.26" rx="3.20" ry="2.50"/><ellipse cx="377.50" cy="124.26" rx="3.20" ry="2.50"/><ellipse cx="370.10" cy="129.75" rx="3.20" ry="2.50"/><ellipse cx="372.57" cy="129.75" rx="3.20" ry="2.50"/><ellipse cx="375.03" cy="129.75" rx="3.20" ry="2.50"/><ellipse cx="377.50" cy="129.75" rx="3.20" ry="2.50"/><ellipse cx="373.80" cy="135.24" rx="3.20" ry="2.50"/><ellipse cx="372.05" cy="140.72" rx="3.20" ry="2.50"/><ellipse cx="373.80" cy="140.72" rx="3.20" ry="2.50"/><ellipse cx="375.55" cy="140.72" rx="3.20" ry="2.50"/><ellipse cx="372.75" cy="146.21" rx="3.20" ry="2.50"/><ellipse cx="374.85" cy="146.21" rx="3.20" ry="2.50"/><ellipse cx="373.80" cy="151.70" rx="3.20" ry="2.50"/><ellipse cx="372.75" cy="157.18" rx="3.20" ry="2.50"/><ellipse cx="374.85" cy="157.18" rx="3.20" ry="2.50"/><ellipse cx="371.05" cy="162.67" rx="3.20" ry="2.50"/><ellipse cx="373.80" cy="162.67" rx="3.20" ry="2.50"/><ellipse cx="376.55" cy="162.67" rx="3.20" ry="2.50"/><ellipse cx="372.05" cy="168.16" rx="3.20" ry="2.50"/><ellipse cx="373.80" cy="168.16" rx="3.20" ry="2.50"/><ellipse cx="375.55" cy="168.16" rx="3.20" ry="2.50"/><ellipse cx="372.75" cy="173.64" rx="3.20" ry="2.50"/><ellipse cx="374.85" cy="173.64" rx="3.20" ry="2.50"/><ellipse cx="373.80" cy="179.13" rx="3.20" ry="2.50"/></g>
<rect x="73.60" y="93.40" width="24.00" height="1.10" fill="#3a3a3a"/>
<rect x="109.40" y="101.24" width="24.20" height="2.70" fill="#000"/>
<rect x="157.60" y="111.94" width="24.00" height="2.70" fill="#000"/>
<rect x="193.60" y="133.89" width="24.00" height="2.70" fill="#000"/>
<rect x="241.60" y="100.97" width="24.00" height="2.70" fill="#000"/>
<rect x="277.90" y="101.57" width="23.80" height="1.50" fill="#333"/>
<rect x="325.60" y="100.97" width="24.00" height="2.70" fill="#000"/>
<rect x="361.70" y="114.68" width="24.20" height="2.70" fill="#000"/>
<g fill="#000" fill-opacity="0.30"><circle cx="512.4" cy="56.4" r="2.40"/><circle cx="512.4" cy="64.4" r="2.40"/><circle cx="510.7" cy="69.7" r="2.40"/><circle cx="514.0" cy="69.7" r="2.40"/><circle cx="516.0" cy="74.7" r="2.40"/><circle cx="512.7" cy="77.3" r="2.40"/><circle cx="519.3" cy="77.3" r="2.40"/><circle cx="508.7" cy="80.0" r="2.40"/><circle cx="516.0" cy="79.5" r="2.40"/><circle cx="512.4" cy="82.7" r="2.40"/><circle cx="508.7" cy="87.7" r="2.40"/><circle cx="505.0" cy="91.0" r="2.40"/><circle cx="509.3" cy="93.3" r="2.40"/><circle cx="512.7" cy="92.7" r="2.40"/><circle cx="516.0" cy="96.0" r="2.40"/><circle cx="519.6" cy="95.6" r="2.40"/><circle cx="508.7" cy="98.4" r="2.40"/><circle cx="516.0" cy="101.3" r="2.40"/><circle cx="501.7" cy="106.0" r="2.40"/><circle cx="505.0" cy="108.4" r="2.40"/><circle cx="505.0" cy="114.0" r="2.40"/><circle cx="508.7" cy="112.0" r="2.40"/><circle cx="512.7" cy="116.0" r="2.40"/><circle cx="519.6" cy="116.7" r="2.40"/><circle cx="516.0" cy="118.0" r="2.40"/><circle cx="508.7" cy="119.0" r="2.40"/><circle cx="512.4" cy="124.0" r="2.40"/><circle cx="508.7" cy="127.0" r="2.40"/><circle cx="516.0" cy="127.0" r="2.40"/><circle cx="512.4" cy="130.0" r="2.40"/><circle cx="512.4" cy="127.0" r="2.40"/><circle cx="508.7" cy="135.2" r="2.40"/><circle cx="512.7" cy="135.6" r="2.40"/><circle cx="516.0" cy="135.2" r="2.40"/><circle cx="512.4" cy="140.4" r="2.40"/><circle cx="516.0" cy="143.0" r="2.40"/><circle cx="519.6" cy="143.0" r="2.40"/><circle cx="508.7" cy="145.7" r="2.40"/><circle cx="512.4" cy="145.7" r="2.40"/><circle cx="516.0" cy="148.4" r="2.40"/><circle cx="512.4" cy="153.7" r="2.40"/><circle cx="512.4" cy="172.0" r="2.40"/></g>
<g fill="#061488" fill-opacity="0.88"><circle cx="552.4" cy="54.0" r="2.40"/><circle cx="554.7" cy="64.0" r="2.40"/><circle cx="550.7" cy="66.9" r="2.40"/><circle cx="552.4" cy="70.0" r="2.40"/><circle cx="548.7" cy="72.0" r="2.40"/><circle cx="556.4" cy="72.0" r="2.40"/><circle cx="545.3" cy="77.5" r="2.40"/><circle cx="548.7" cy="77.5" r="2.40"/><circle cx="552.4" cy="77.5" r="2.40"/><circle cx="556.4" cy="77.5" r="2.40"/><circle cx="560.0" cy="77.5" r="2.40"/><circle cx="550.7" cy="80.7" r="2.40"/><circle cx="554.7" cy="80.7" r="2.40"/><circle cx="552.4" cy="82.7" r="2.40"/><circle cx="556.4" cy="82.7" r="2.40"/><circle cx="550.7" cy="87.3" r="2.40"/><circle cx="554.7" cy="90.7" r="2.40"/><circle cx="552.6" cy="92.7" r="2.40"/><circle cx="547.3" cy="95.3" r="2.40"/><circle cx="550.7" cy="95.3" r="2.40"/><circle cx="558.0" cy="95.3" r="2.40"/><circle cx="554.6" cy="94.3" r="2.40"/><circle cx="548.7" cy="98.0" r="2.40"/><circle cx="558.0" cy="98.0" r="2.40"/><circle cx="547.3" cy="101.0" r="2.40"/><circle cx="550.7" cy="101.0" r="2.40"/><circle cx="554.7" cy="101.0" r="2.40"/><circle cx="558.0" cy="101.0" r="2.40"/><circle cx="547.3" cy="103.6" r="2.40"/><circle cx="562.0" cy="103.6" r="2.40"/><circle cx="542.7" cy="106.0" r="2.40"/><circle cx="546.0" cy="106.0" r="2.40"/><circle cx="550.0" cy="106.0" r="2.40"/><circle cx="554.0" cy="106.0" r="2.40"/><circle cx="558.0" cy="106.0" r="2.40"/><circle cx="562.0" cy="106.0" r="2.40"/><circle cx="564.0" cy="106.0" r="2.40"/><circle cx="548.7" cy="112.0" r="2.40"/><circle cx="552.4" cy="112.0" r="2.40"/><circle cx="556.4" cy="112.0" r="2.40"/><circle cx="562.0" cy="112.0" r="2.40"/><circle cx="550.7" cy="116.7" r="2.40"/><circle cx="554.7" cy="116.7" r="2.40"/><circle cx="541.3" cy="122.0" r="2.40"/><circle cx="548.7" cy="122.0" r="2.40"/><circle cx="544.7" cy="125.0" r="2.40"/><circle cx="548.7" cy="125.0" r="2.40"/><circle cx="552.7" cy="125.0" r="2.40"/><circle cx="556.4" cy="125.0" r="2.40"/><circle cx="560.0" cy="125.0" r="2.40"/><circle cx="563.6" cy="125.0" r="2.40"/><circle cx="544.7" cy="127.3" r="2.40"/><circle cx="550.7" cy="127.3" r="2.40"/><circle cx="554.7" cy="127.3" r="2.40"/><circle cx="548.7" cy="130.0" r="2.40"/><circle cx="552.7" cy="130.0" r="2.40"/><circle cx="556.4" cy="130.0" r="2.40"/><circle cx="560.0" cy="130.0" r="2.40"/><circle cx="550.7" cy="133.0" r="2.40"/><circle cx="554.7" cy="133.0" r="2.40"/><circle cx="552.4" cy="135.3" r="2.40"/><circle cx="558.0" cy="130.7" r="2.40"/><circle cx="556.4" cy="140.0" r="2.40"/><circle cx="548.7" cy="143.0" r="2.40"/><circle cx="552.4" cy="143.0" r="2.40"/><circle cx="550.7" cy="156.3" r="2.40"/><circle cx="554.7" cy="156.3" r="2.40"/><circle cx="550.7" cy="164.0" r="2.40"/><circle cx="558.0" cy="164.0" r="2.40"/><circle cx="547.3" cy="166.7" r="2.40"/><circle cx="554.7" cy="166.7" r="2.40"/><circle cx="552.4" cy="172.0" r="2.40"/><circle cx="552.4" cy="174.7" r="2.40"/><circle cx="552.4" cy="179.6" r="2.40"/><circle cx="550.7" cy="200.9" r="2.40"/><circle cx="554.7" cy="200.9" r="2.40"/></g>
<g fill="#000" fill-opacity="0.30"><circle cx="589.3" cy="56.4" r="2.40"/><circle cx="593.0" cy="59.0" r="2.40"/><circle cx="596.6" cy="59.0" r="2.40"/><circle cx="589.3" cy="62.0" r="2.40"/><circle cx="593.0" cy="64.7" r="2.40"/><circle cx="589.3" cy="70.0" r="2.40"/><circle cx="593.0" cy="72.7" r="2.40"/><circle cx="596.6" cy="72.3" r="2.40"/><circle cx="596.6" cy="77.7" r="2.40"/><circle cx="589.3" cy="80.0" r="2.40"/><circle cx="593.0" cy="80.0" r="2.40"/><circle cx="596.6" cy="82.7" r="2.40"/><circle cx="589.3" cy="85.3" r="2.40"/><circle cx="593.0" cy="85.3" r="2.40"/><circle cx="596.6" cy="87.7" r="2.40"/><circle cx="589.3" cy="90.7" r="2.40"/><circle cx="585.7" cy="95.6" r="2.40"/><circle cx="600.0" cy="95.6" r="2.40"/><circle cx="589.3" cy="98.3" r="2.40"/><circle cx="593.0" cy="98.3" r="2.40"/><circle cx="582.3" cy="102.7" r="2.40"/><circle cx="589.3" cy="102.7" r="2.40"/><circle cx="603.7" cy="102.7" r="2.40"/><circle cx="582.3" cy="108.7" r="2.40"/><circle cx="593.0" cy="111.3" r="2.40"/><circle cx="596.3" cy="107.5" r="2.40"/><circle cx="603.7" cy="108.7" r="2.40"/><circle cx="589.3" cy="116.7" r="2.40"/><circle cx="593.0" cy="119.3" r="2.40"/><circle cx="600.0" cy="122.0" r="2.40"/><circle cx="589.3" cy="124.7" r="2.40"/><circle cx="593.0" cy="124.7" r="2.40"/><circle cx="596.3" cy="124.7" r="2.40"/><circle cx="585.7" cy="132.7" r="2.40"/><circle cx="593.0" cy="132.7" r="2.40"/><circle cx="589.3" cy="135.3" r="2.40"/><circle cx="596.3" cy="135.3" r="2.40"/><circle cx="594.7" cy="140.4" r="2.40"/><circle cx="591.0" cy="143.0" r="2.40"/><circle cx="593.0" cy="148.4" r="2.40"/><circle cx="591.0" cy="153.7" r="2.40"/><circle cx="594.7" cy="153.7" r="2.40"/><circle cx="593.0" cy="190.3" r="2.40"/></g>
<g fill="#061488" fill-opacity="0.88"><circle cx="633.0" cy="54.0" r="2.40"/><circle cx="622.3" cy="64.4" r="2.40"/><circle cx="625.7" cy="64.4" r="2.40"/><circle cx="629.0" cy="67.0" r="2.40"/><circle cx="633.7" cy="62.0" r="2.40"/><circle cx="637.0" cy="62.0" r="2.40"/><circle cx="633.7" cy="66.5" r="2.40"/><circle cx="637.0" cy="66.7" r="2.40"/><circle cx="643.7" cy="64.4" r="2.40"/><circle cx="633.0" cy="74.7" r="2.40"/><circle cx="636.3" cy="74.7" r="2.40"/><circle cx="640.3" cy="74.7" r="2.40"/><circle cx="622.3" cy="77.5" r="2.40"/><circle cx="625.7" cy="77.5" r="2.40"/><circle cx="629.0" cy="77.5" r="2.40"/><circle cx="643.7" cy="77.5" r="2.40"/><circle cx="629.0" cy="75.5" r="2.40"/><circle cx="633.0" cy="80.0" r="2.40"/><circle cx="637.0" cy="80.0" r="2.40"/><circle cx="629.0" cy="82.7" r="2.40"/><circle cx="625.7" cy="85.3" r="2.40"/><circle cx="629.0" cy="85.3" r="2.40"/><circle cx="632.3" cy="85.3" r="2.40"/><circle cx="640.3" cy="87.7" r="2.40"/><circle cx="643.7" cy="87.7" r="2.40"/><circle cx="622.3" cy="90.7" r="2.40"/><circle cx="625.7" cy="90.7" r="2.40"/><circle cx="629.0" cy="90.7" r="2.40"/><circle cx="632.3" cy="90.7" r="2.40"/><circle cx="637.0" cy="90.7" r="2.40"/><circle cx="629.0" cy="93.3" r="2.40"/><circle cx="633.0" cy="93.3" r="2.40"/><circle cx="632.3" cy="95.6" r="2.40"/><circle cx="637.0" cy="95.6" r="2.40"/><circle cx="640.3" cy="95.6" r="2.40"/><circle cx="625.7" cy="101.3" r="2.40"/><circle cx="629.0" cy="101.3" r="2.40"/><circle cx="633.0" cy="101.3" r="2.40"/><circle cx="637.0" cy="101.3" r="2.40"/><circle cx="640.3" cy="101.3" r="2.40"/><circle cx="625.7" cy="104.0" r="2.40"/><circle cx="629.0" cy="104.0" r="2.40"/><circle cx="633.0" cy="104.0" r="2.40"/><circle cx="637.0" cy="104.0" r="2.40"/><circle cx="640.3" cy="104.0" r="2.40"/><circle cx="629.0" cy="106.7" r="2.40"/><circle cx="633.0" cy="106.7" r="2.40"/><circle cx="637.0" cy="106.7" r="2.40"/><circle cx="640.3" cy="106.7" r="2.40"/><circle cx="625.7" cy="108.7" r="2.40"/><circle cx="629.0" cy="108.7" r="2.40"/><circle cx="633.0" cy="108.7" r="2.40"/><circle cx="629.0" cy="111.6" r="2.40"/><circle cx="633.0" cy="111.6" r="2.40"/><circle cx="640.3" cy="111.6" r="2.40"/><circle cx="629.0" cy="114.3" r="2.40"/><circle cx="635.0" cy="114.3" r="2.40"/><circle cx="632.3" cy="117.0" r="2.40"/><circle cx="637.0" cy="117.0" r="2.40"/><circle cx="633.0" cy="119.3" r="2.40"/><circle cx="631.0" cy="122.0" r="2.40"/><circle cx="635.0" cy="124.7" r="2.40"/><circle cx="631.0" cy="127.3" r="2.40"/><circle cx="635.0" cy="132.7" r="2.40"/><circle cx="640.3" cy="132.7" r="2.40"/><circle cx="625.7" cy="135.3" r="2.40"/><circle cx="629.0" cy="135.3" r="2.40"/><circle cx="637.0" cy="135.3" r="2.40"/><circle cx="635.0" cy="138.0" r="2.40"/><circle cx="631.3" cy="140.7" r="2.40"/><circle cx="635.0" cy="153.7" r="2.40"/><circle cx="631.3" cy="156.4" r="2.40"/><circle cx="633.0" cy="161.7" r="2.40"/><circle cx="633.0" cy="169.7" r="2.40"/></g>
<rect x="499.00" y="110.40" width="27.00" height="2.40" fill="#404040"/>
<rect x="539.30" y="107.50" width="26.70" height="2.80" fill="#000"/>
<rect x="580.00" y="103.60" width="26.00" height="2.80" fill="#000"/>
<rect x="620.00" y="97.00" width="26.00" height="2.80" fill="#000"/>
</svg>
</body>
</html>
